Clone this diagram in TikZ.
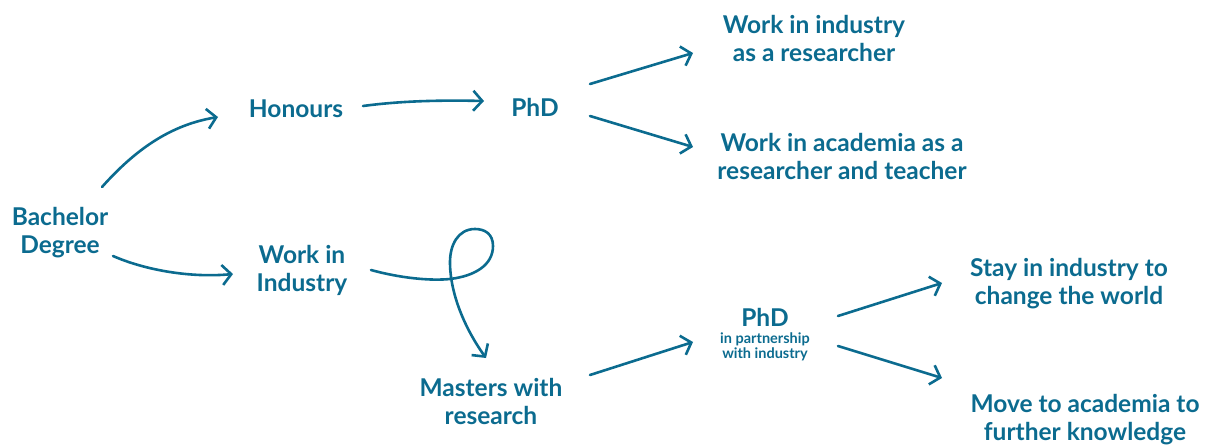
\documentclass[tikz,border=0pt]{standalone}
\usepackage{fontspec}
\setmainfont{Lato}
\usetikzlibrary{arrows.meta}
\definecolor{teal}{HTML}{0B6B8F}
\begin{document}
\begin{tikzpicture}[x=1pt,y=-1pt,
  lbl/.style={text=teal,font=\bfseries\fontsize{24.5}{28}\selectfont,align=center,inner sep=0pt},
  sm/.style={text=teal,font=\bfseries\fontsize{14.5}{15}\selectfont,align=center,inner sep=0pt},
  arr/.style={draw=teal,line width=2.6pt,line cap=round,-{Straight Barb[length=9pt,width=20pt,line width=2.6pt]}}]
\useasboundingbox (0,0) rectangle (1210,447);
\node[lbl] (bach) at (60,233) {Bachelor\\Degree};
\node[lbl] (hon) at (296,109) {Honours};
\node[lbl] (phd1) at (535,107) {PhD};
\node[lbl] (wir) at (814,38) {Work in industry\\as a researcher};
\node[lbl] (wac) at (842,156) {Work in academia as a\\researcher and teacher};
\node[lbl] (wii) at (302,270) {Work in\\Industry};
\node[lbl] (mas) at (491,401) {Masters with\\research};
\node[lbl] (phd2) at (765,317) {PhD};
\node[sm] (part) at (765,347) {in partnership\\with industry};
\node[lbl] (stay) at (1069,284) {Stay in industry to\\change the world};
\node[lbl] (move) at (1085,420) {Move to academia to\\further knowledge};
\coordinate (a1s) at (102,187); \coordinate (a1e) at (218,117);
\coordinate (a2s) at (363,106); \coordinate (a2e) at (484,101);
\coordinate (a3s) at (590,84); \coordinate (a3e) at (693,53);
\coordinate (a4s) at (590,116); \coordinate (a4e) at (693,147);
\coordinate (a5s) at (113,256); \coordinate (a5e) at (233,274);
\coordinate (a6s) at (371,270); \coordinate (a6e) at (486,358);
\coordinate (a7s) at (590,375); \coordinate (a7e) at (693,342);
\coordinate (a8s) at (838,316); \coordinate (a8e) at (942,283);
\coordinate (a9s) at (838,346); \coordinate (a9e) at (942,378);
\draw[arr] (a1s) .. controls (135,150) and (170,125) .. (a1e);
\draw[arr] (a2s) .. controls (400,101) and (440,100) .. (a2e);
\draw[arr] (a3s) -- (a3e);
\draw[arr] (a4s) -- (a4e);
\draw[arr] (a5s) .. controls (145,270) and (190,278) .. (a5e);
\draw[arr] (a6s) .. controls (400,278) and (430,281) .. (450,279)
  .. controls (475,276) and (493,265) .. (493,246)
  .. controls (493,234) and (485,229) .. (475,229)
  .. controls (458,229) and (450,245) .. (450,262)
  .. controls (450,295) and (466,330) .. (a6e);
\draw[arr] (a7s) -- (a7e);
\draw[arr] (a8s) -- (a8e);
\draw[arr] (a9s) -- (a9e);
\end{tikzpicture}
\end{document}
